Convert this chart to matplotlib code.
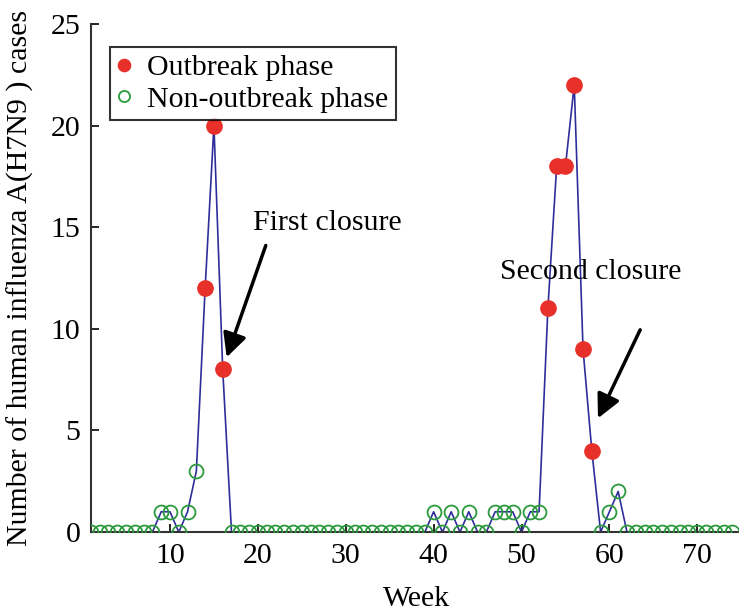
import matplotlib
matplotlib.use("Agg")
import matplotlib.pyplot as plt
import numpy as np

plt.rcParams["font.family"] = ["Liberation Serif", "DejaVu Serif"]

# weekly H7N9 cases, week 1..74
weeks = list(range(1, 75))
cases = [0, 0, 0, 0, 0, 0, 0, 0, 1, 1,
         0, 1, 3, 12, 20, 8, 0, 0, 0, 0,
         0, 0, 0, 0, 0, 0, 0, 0, 0, 0,
         0, 0, 0, 0, 0, 0, 0, 0, 0, 1,
         0, 1, 0, 1, 0, 0, 1, 1, 1, 0,
         1, 1, 11, 18, 18, 22, 9, 4, 0, 1,
         2, 0, 0, 0, 0, 0, 0, 0, 0, 0,
         0, 0, 0, 0]
outbreak_weeks = [14, 15, 16, 53, 54, 55, 56, 57, 58]

x_ticks = [10, 20, 30, 40, 50, 60, 70]
y_ticks = [0, 5, 10, 15, 20, 25]

weeks = np.array(weeks)
cases = np.array(cases)
is_out = np.isin(weeks, outbreak_weeks)

fig = plt.figure(figsize=(7.39, 6.13), dpi=100)
ax = fig.add_axes([0.123, 0.132, 0.88, 0.829])

ax.plot(weeks, cases, color="#2e2e9a", lw=1.2, zorder=2)
ax.plot(weeks[~is_out], cases[~is_out], "o", ls="none", mfc="none",
        mec="#2b9a3c", mew=1.3, ms=10, label="Non-outbreak phase", zorder=3)
ax.plot(weeks[is_out], cases[is_out], "o", ls="none", mfc="#e8302a",
        mec="#e8302a", ms=11, label="Outbreak phase", zorder=4)

handles, labels = ax.get_legend_handles_labels()
leg = ax.legend(handles[::-1], labels[::-1], loc="upper left",
                bbox_to_anchor=(0.029, 0.955), fontsize=21.5, frameon=True,
                fancybox=False, borderpad=0.25, handletextpad=0.55,
                handlelength=0.45, labelspacing=0.15, borderaxespad=0,
                markerscale=0.8)
leg.get_frame().set_edgecolor("black")
leg.get_frame().set_linewidth(1.5)

ax.annotate("", xy=(16.45, 8.6), xytext=(20.9, 14.1),
            arrowprops=dict(arrowstyle="-|>", color="black", lw=2.5,
                            mutation_scale=36, shrinkA=0, shrinkB=0))
ax.annotate("", xy=(58.7, 5.6), xytext=(63.5, 9.95),
            arrowprops=dict(arrowstyle="-|>", color="black", lw=2.5,
                            mutation_scale=36, shrinkA=0, shrinkB=0))
ax.text(19.45, 15.2, "First closure", fontsize=21.5, va="center", ha="left")
ax.text(47.6, 12.8, "Second closure", fontsize=21.5, va="center", ha="left")

ax.set_xlim(1, 75)
ax.set_ylim(0, 25)
ax.set_xticks(x_ticks)
ax.set_yticks(y_ticks)
ax.tick_params(direction="in", length=6, width=1.2, labelsize=21.5)
ax.tick_params(axis="y", pad=7.5)
ax.tick_params(axis="x", pad=8)
for s in ["top", "right"]:
    ax.spines[s].set_visible(False)
for s in ["left", "bottom"]:
    ax.spines[s].set_linewidth(1.5)
    ax.spines[s].set_color("#333333")

ax.set_xlabel("Week", fontsize=21.5, labelpad=12)
ax.set_ylabel("Number of human influenza A(H7N9 ) cases", fontsize=21.5,
              labelpad=12)

fig.savefig("out.png", dpi=100)
